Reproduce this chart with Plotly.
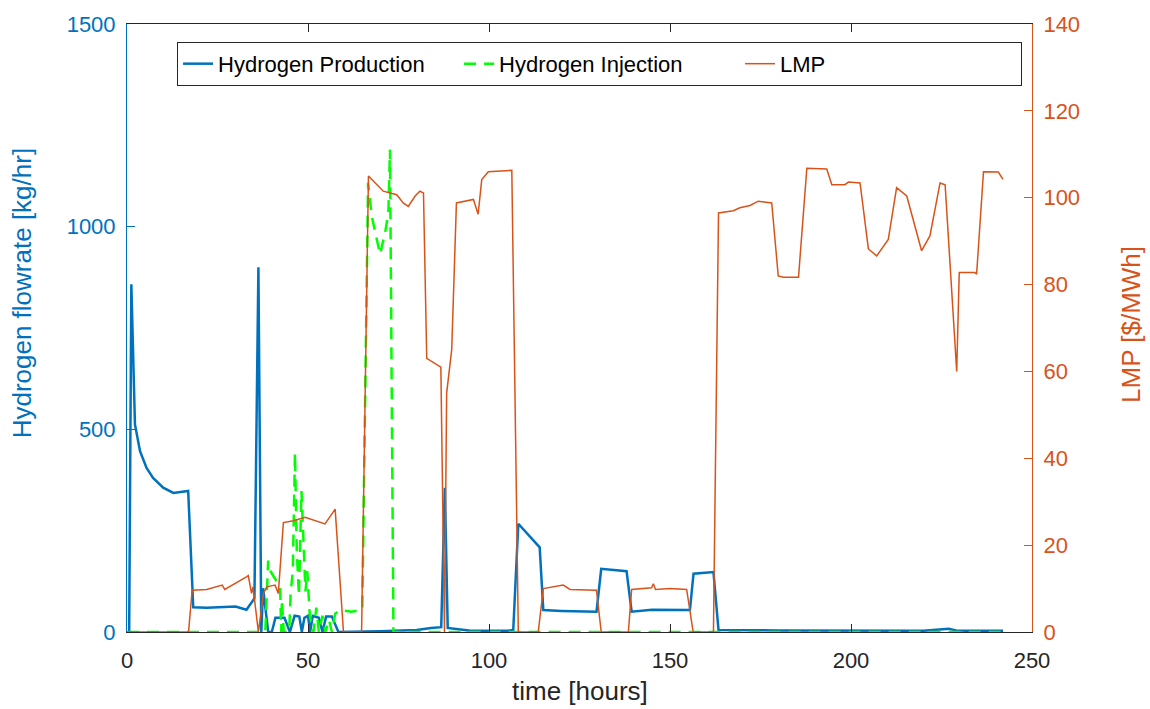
import plotly.graph_objects as go

# ---- data ----
t_prod = [0.6, 1.2, 2.2, 3.6, 5.4, 7.2, 10, 12.8, 16.9, 18.3, 22, 26, 30, 33, 35.2, 36.3, 37.1, 37.6, 39, 40,
          41, 43.5, 45, 46.3, 47.6, 48.3, 49, 50, 50.6, 51.3, 53, 54, 55, 56.6, 58.4, 70, 80, 84, 86.8, 87.8,
          88.6, 95, 105, 106.7, 108.1, 114, 115, 120, 129.7, 131, 138, 139.4, 145, 155.5, 156.5, 162, 163.4,
          180, 200, 220, 227, 229, 232, 242]
h_prod = [0, 858, 512, 446, 405, 380, 356, 343, 348, 61, 60, 62, 63, 55, 83, 900, 0, 108, 0, 0,
          35, 35, 0, 40, 38, 0, 35, 40, 0, 40, 35, 0, 38, 38, 0, 2, 5, 10, 12, 356,
          10, 3, 3, 5, 267, 209, 54, 52, 50, 156, 150, 50, 55, 54, 144, 148, 5,
          4, 4, 3, 8, 4, 3, 3]

t_inj = [0, 38.2, 39, 39.5, 42.3, 42.6, 42.8, 43.3, 44.8, 45.2, 45.8, 46.4, 46.9, 47.5, 48.2, 48.8, 49.3,
         49.8, 50.5, 51.5, 52.3, 53, 54, 54.8, 55.8, 56.6, 57.5, 58.8, 62, 65, 66.6, 67.6, 69.9, 71.3, 72.2,
         72.65, 73.6, 242]
h_inj = [0, 0, 176, 152, 111, 0, 80, 0, 0, 95, 150, 442, 200, 90, 348, 209, 100,
         150, 40, 0, 60, 0, 40, 0, 30, 0, 45, 54, 50, 55, 1108, 1026, 932, 985, 1034,
         1190, 0, 0]

t_lmp = [0, 17, 18, 22, 26.3, 27, 33, 33.5, 34.4, 34.8, 36.3, 37.7, 38.6, 40.9, 41.8, 43.2, 46, 49.2, 54.7,
         57.5, 59.8, 64.8, 66.7, 68.5, 70.8, 74.5, 76.3, 77.7, 79.6, 80.9, 81.9, 82.8, 86.7, 87.7, 88.3, 89.7,
         91, 95.7, 97, 98, 99.8, 106.3, 108.1, 113.6, 115, 120.5, 122.4, 129.7, 131, 138.5, 139.4, 144.9, 145.4,
         146, 150, 154.6, 156.4, 162, 163.4, 167.5, 169.3, 172.1, 174.4, 178.1, 179.9, 181.3, 185.5, 187.8,
         193.3, 194.7, 198.3, 199.3, 202.5, 204.8, 207.1, 210.3, 212.6, 215.4, 219.5, 221.8, 224.6, 226, 229.2,
         229.9, 234.2, 234.7, 236.6, 240.7, 242]
lmp = [0, 0, 9.6, 9.8, 10.8, 9.8, 12.7, 13, 8.9, 10.4, 0, 8.9, 10.4, 10.8, 8.9, 25.2, 25.6, 26.4, 24.9,
       28.3, 0, 0, 105, 103.4, 101.5, 100.7, 98.8, 98, 100.4, 101.5, 101.1, 63, 61, 0, 55, 65,
       98.8, 99.6, 96.2, 104.2, 106, 106.3, 0, 0, 10, 10.8, 9.8, 9.6, 0, 0, 9.8, 10.2, 11.1,
       9.8, 10, 9.8, 0, 0, 96.5, 97, 97.7, 98.2, 99.2, 98.8, 82, 81.7, 81.7, 106.8,
       106.6, 103, 103, 103.6, 103.4, 88.2, 86.6, 90.4, 102.3, 100.4, 87.8, 91.2, 103.4, 103, 60,
       82.8, 82.8, 82.4, 106, 105.9, 104.2]

x_ticks = [0, 50, 100, 150, 200, 250]
y_ticks = [0, 500, 1000, 1500]
y2_ticks = [0, 20, 40, 60, 80, 100, 120, 140]

BLUE = "#0072BD"
ORANGE = "#D95319"
GREEN = "#00FF00"
AXC = "#262626"
FONT = "Liberation Sans, Arial, sans-serif"

fig = go.Figure()
fig.add_trace(go.Scatter(x=t_prod, y=h_prod, mode="lines", name="Hydrogen Production",
                         line=dict(color=BLUE, width=2.5)))
fig.add_trace(go.Scatter(x=t_inj, y=h_inj, mode="lines", name="Hydrogen Injection",
                         line=dict(color=GREEN, width=2.5, dash="12px,8px")))
fig.add_trace(go.Scatter(x=t_lmp, y=lmp, mode="lines", name="LMP", yaxis="y2",
                         line=dict(color=ORANGE, width=1.5)))

fig.update_layout(
    width=1150, height=709,
    margin=dict(l=127, r=118, t=20, b=77),
    paper_bgcolor="white", plot_bgcolor="white",
    font=dict(family=FONT, size=22, color=AXC),
    showlegend=True,
    legend=dict(orientation="h", x=0.989, xanchor="right", y=0.9706, yanchor="top",
                bgcolor="white", bordercolor=AXC, borderwidth=1,
                font=dict(family=FONT, size=22, color="black"),
                entrywidthmode="pixels", entrywidth=236, tracegroupgap=0),
    xaxis=dict(range=[0, 250], tickvals=x_ticks, ticks="inside", ticklen=8, tickcolor=AXC,
               showline=True, linecolor=AXC, linewidth=1, mirror="ticks", showgrid=False, zeroline=False,
               tickfont=dict(size=22, color=AXC), ticklabelstandoff=9),
    yaxis=dict(range=[0, 1500], tickvals=y_ticks, ticks="inside", ticklen=8, tickcolor=BLUE,
               showline=True, linecolor=BLUE, linewidth=1, showgrid=False, zeroline=False,
               tickfont=dict(size=22, color=BLUE), ticklabelstandoff=6),
    yaxis2=dict(range=[0, 140], tickvals=y2_ticks, ticks="inside", ticklen=8, tickcolor=ORANGE,
                showline=True, linecolor=ORANGE, linewidth=1, showgrid=False, zeroline=False,
                overlaying="y", side="right", anchor="x",
                tickfont=dict(size=22, color=ORANGE), ticklabelstandoff=6),
    annotations=[
        dict(text="time [hours]", xref="paper", yref="paper", x=0.5, y=0, yshift=-59,
             showarrow=False, font=dict(size=26, color=AXC), xanchor="center", yanchor="middle"),
        dict(text="Hydrogen flowrate [kg/hr]", xref="paper", yref="paper", x=0, xshift=-105, y=0.557,
             showarrow=False, textangle=-90, font=dict(size=26, color=BLUE), xanchor="center", yanchor="middle"),
        dict(text="LMP [$/MWh]", xref="paper", yref="paper", x=1, xshift=99, y=0.505,
             showarrow=False, textangle=-90, font=dict(size=26, color=ORANGE), xanchor="center", yanchor="middle"),
    ],
)

fig.write_html("out.html")
